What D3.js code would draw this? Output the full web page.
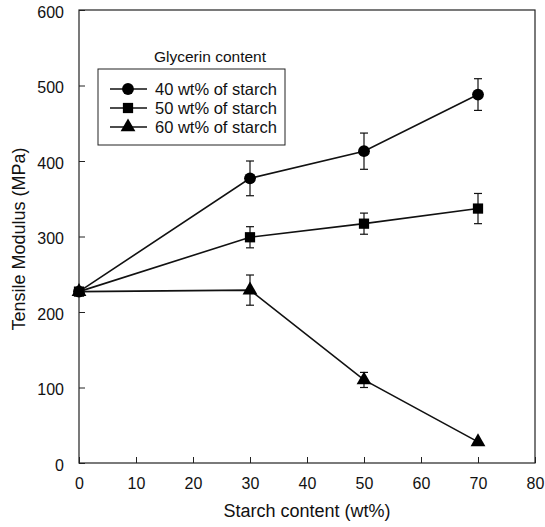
<!DOCTYPE html>
<html>
<head>
<meta charset="utf-8">
<script src="https://cdn.jsdelivr.net/npm/d3@7"></script>
<style>
  html, body { margin: 0; padding: 0; background: #fff; }
  svg { display: block; font-family: "Liberation Sans", Arial, sans-serif; }
</style>
</head>
<body>
<svg id="chart" width="545" height="527"></svg>
<script>
// Starch content (wt%) for each measurement
const starch = [0, 30, 50, 70];

// Tensile modulus (MPa) and standard deviation per glycerin level
const modulus40 = [227, 377, 413, 488];
const err40     = [0, 23, 24, 21];
const modulus50 = [227, 299, 317, 337];
const err50     = [0, 14, 14, 20];
const modulus60 = [227, 229, 110, 28];
const err60     = [0, 20, 10, 0];

const seriesNames = ["40 wt% of starch", "50 wt% of starch", "60 wt% of starch"];
const seriesSymbols = [d3.symbolCircle, d3.symbolSquare, d3.symbolTriangle];
const seriesSizes = [110, 105, 95];

const xTicks = [0, 10, 20, 30, 40, 50, 60, 70, 80];
const yTicks = [0, 100, 200, 300, 400, 500, 600];

const series = [
  { name: seriesNames[0], values: modulus40, errors: err40, symbol: seriesSymbols[0], size: seriesSizes[0] },
  { name: seriesNames[1], values: modulus50, errors: err50, symbol: seriesSymbols[1], size: seriesSizes[1] },
  { name: seriesNames[2], values: modulus60, errors: err60, symbol: seriesSymbols[2], size: seriesSizes[2] }
];

const svg = d3.select("#chart");
const plotLeft = 79, plotRight = 535, plotTop = 10, plotBottom = 463;

const x = d3.scaleLinear().domain([0, 80]).range([plotLeft, plotRight]);
const y = d3.scaleLinear().domain([0, 600]).range([plotBottom, plotTop]);

// Axes with inward ticks
const xAxis = d3.axisBottom(x).tickValues(xTicks).tickSize(-6).tickPadding(14).tickFormat(d3.format("d"));
const yAxis = d3.axisLeft(y).tickValues(yTicks).tickSize(-6).tickPadding(15).tickFormat(d3.format("d"));

const gx = svg.append("g").attr("transform", `translate(0,${plotBottom})`).call(xAxis);
const gy = svg.append("g").attr("transform", `translate(${plotLeft},0)`).call(yAxis);
[gx, gy].forEach(g => {
  g.select(".domain").remove();
  g.selectAll(".tick line").attr("stroke", "#222").attr("stroke-width", 1);
  g.selectAll(".tick text").attr("fill", "#111").style("font-size", "16px");
});
gy.selectAll(".tick text").attr("dy", "0.45em");
gx.selectAll(".tick text").attr("dy", "0.75em");

// Frame around the plot area
svg.append("rect")
  .attr("x", plotLeft).attr("y", plotTop)
  .attr("width", plotRight - plotLeft).attr("height", plotBottom - plotTop)
  .attr("fill", "none").attr("stroke", "#222").attr("stroke-width", 1.2);

// Axis titles
svg.append("text")
  .attr("x", (plotLeft + plotRight) / 2).attr("y", 517)
  .attr("text-anchor", "middle").style("font-size", "18px").attr("fill", "#111")
  .text("Starch content (wt%)");
svg.append("text")
  .attr("transform", `translate(25,239) rotate(-90)`)
  .attr("text-anchor", "middle").style("font-size", "18px").attr("fill", "#111")
  .text("Tensile Modulus (MPa)");

const line = d3.line().x((d, i) => x(starch[i])).y(d => y(d));

series.forEach(s => {
  const g = svg.append("g");
  g.append("path").attr("d", line(s.values))
    .attr("fill", "none").attr("stroke", "#111").attr("stroke-width", 1.6);

  // error bars
  s.values.forEach((v, i) => {
    const e = s.errors[i];
    if (!e) return;
    const cx = x(starch[i]);
    const eb = g.append("g").attr("stroke", "#111").attr("stroke-width", 1.2);
    eb.append("line").attr("x1", cx).attr("x2", cx).attr("y1", y(v - e)).attr("y2", y(v + e));
    eb.append("line").attr("x1", cx - 4).attr("x2", cx + 4).attr("y1", y(v + e)).attr("y2", y(v + e));
    eb.append("line").attr("x1", cx - 4).attr("x2", cx + 4).attr("y1", y(v - e)).attr("y2", y(v - e));
  });

  g.selectAll("path.pt").data(s.values).join("path")
    .attr("class", "pt")
    .attr("transform", (d, i) => `translate(${x(starch[i])},${y(d)})`)
    .attr("d", d3.symbol().type(s.symbol).size(s.size))
    .attr("fill", "#000");
});

// Legend
const lg = svg.append("g");
lg.append("text").attr("x", 154).attr("y", 62)
  .style("font-size", "15.5px").attr("fill", "#111").text("Glycerin content");
lg.append("rect").attr("x", 98).attr("y", 69).attr("width", 187).attr("height", 76)
  .attr("fill", "#fff").attr("stroke", "#222").attr("stroke-width", 1);
series.forEach((s, i) => {
  const yy = 89 + i * 19;
  lg.append("line").attr("x1", 110).attr("x2", 147).attr("y1", yy).attr("y2", yy)
    .attr("stroke", "#111").attr("stroke-width", 1.6);
  lg.append("path").attr("transform", `translate(128,${yy})`)
    .attr("d", d3.symbol().type(s.symbol).size(s.size)).attr("fill", "#000");
  lg.append("text").attr("x", 155).attr("y", yy + 6)
    .style("font-size", "16.5px").attr("fill", "#111").text(s.name);
});
</script>
</body>
</html>
